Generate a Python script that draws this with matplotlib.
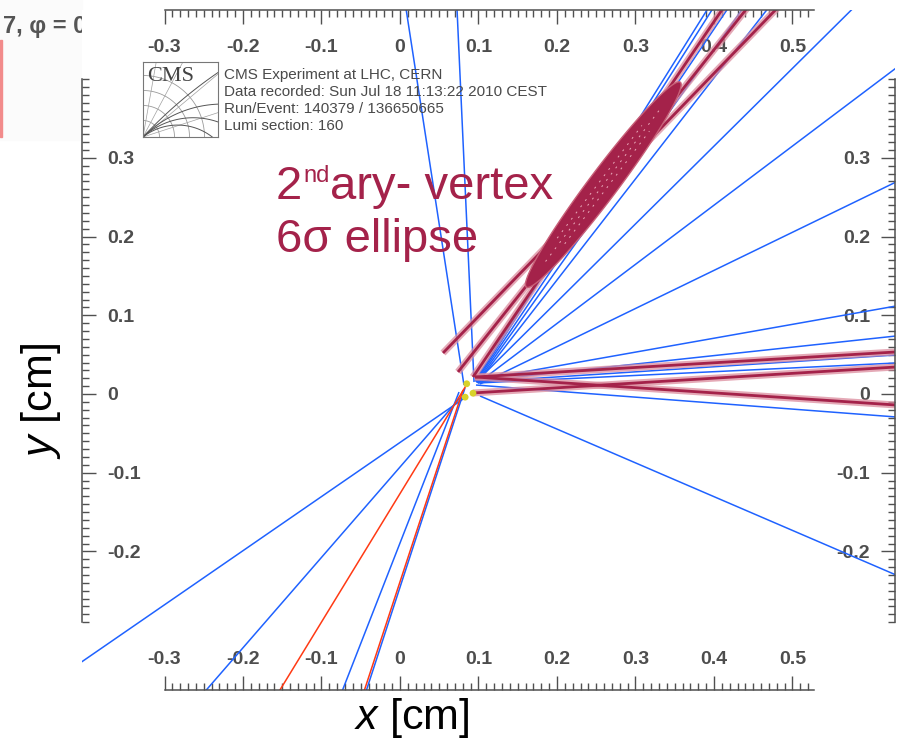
import numpy as np
import matplotlib
matplotlib.use("Agg")
import matplotlib.pyplot as plt
import matplotlib.transforms as mtrans
from matplotlib.patches import Rectangle
from matplotlib.ticker import FixedLocator

plt.rcParams['font.family'] = ['Liberation Sans', 'DejaVu Sans']
plt.rcParams['mathtext.fontset'] = 'custom'
plt.rcParams['mathtext.rm'] = 'Liberation Sans'
plt.rcParams['mathtext.it'] = 'Liberation Sans:italic'

W, H = 903, 744

# ---- reconstructed tracks in the transverse plane (cm): start -> end ----
blue_x0 = [0.0815, 0.0943, 0.0841, 0.0764, 0.0752, 0.0828,
           0.0994, 0.0994, 0.0994, 0.0994, 0.0968, 0.1019,
           0.0968, 0.0994, 0.1019,
           0.0955, 0.0968, 0.0968, 0.0981, 0.0981]
blue_y0 = [0.0114, 0.0152, -0.0038, -0.0051, 0.0025, 0.0076,
           0.0178, 0.0165, 0.0152, 0.0140, 0.0114, -0.0025,
           0.0152, 0.0140, 0.0127,
           0.0165, 0.0165, 0.0152, 0.0152, 0.0140]
blue_x1 = [0.0076, 0.0726, -0.4076, -0.2484, -0.0739, -0.0433,
           0.632, 0.632, 0.632, 0.632, 0.632, 0.632,
           0.5771, 0.632, 0.632,
           0.3924, 0.3987, 0.4178, 0.4369, 0.4688]
blue_y1 = [0.49, 0.49, -0.3418, -0.378, -0.378, -0.378,
           0.1118, 0.0737, 0.0496, 0.0394, -0.0292, -0.2300,
           0.49, 0.4142, 0.2694,
           0.49, 0.49, 0.49, 0.49, 0.49]

red_x0 = [0.0854, 0.0803]
red_y0 = [0.0127, 0.0051]
red_x1 = [-0.1541, -0.0459]
red_y1 = [-0.378, -0.378]

# tracks fitted to the secondary vertices
sv_x0 = [0.0548, 0.0739, 0.0930, 0.0955, 0.0955, 0.0930]
sv_y0 = [0.0521, 0.0280, 0.0216, 0.0216, 0.0216, 0.0013]
sv_x1 = [0.4803, 0.4420, 0.4115, 0.632, 0.632, 0.632]
sv_y1 = [0.49, 0.49, 0.49, -0.0140, 0.0534, 0.0343]

# vertex positions (cm)
vtx_x = [0.085, 0.083, 0.093]
vtx_y = [0.013, -0.004, 0.001]

# secondary-vertex 6 sigma ellipse: centre, full axes (cm), orientation (deg)
ell_cx, ell_cy = 0.259, 0.266
ell_major, ell_minor = 0.326, 0.037
ell_angle = 53.0

# axis scales
x_major = [-0.3, -0.2, -0.1, 0.0, 0.1, 0.2, 0.3, 0.4, 0.5]
x_labels = ['-0.3', '-0.2', '-0.1', '0', '0.1', '0.2', '0.3', '0.4', '0.5']
y_major = [-0.2, -0.1, 0.0, 0.1, 0.2, 0.3]
y_labels = ['-0.2', '-0.1', '0', '0.1', '0.2', '0.3']
x_minor = np.round(np.arange(-0.30, 0.5201, 0.01), 2)
y_minor = np.round(np.arange(-0.29, 0.4001, 0.01), 2)

BLUE = '#1f62ff'
RED = '#ff3a14'
MAROON = '#a4224a'
HALO = '#dc8c9e'
GREY = '#505050'

fig = plt.figure(figsize=(W / 100, H / 100), dpi=100)
fig.patch.set_facecolor('white')


def fpos(px, py):
    return px / W, 1 - py / H


# fragment of the neighbouring panel on the left
fig.patches.append(Rectangle((0, 1 - 140 / H), 82 / W, 140 / H,
                             transform=fig.transFigure, color='#fbfbfb',
                             zorder=-2))
fig.patches.append(Rectangle((0, 1 - 137 / H), 2 / W, 97 / H,
                             transform=fig.transFigure, color='#f28b8b',
                             zorder=-1))
fig.text(*fpos(3, 26), '7, φ = 0', fontsize=17, fontweight='bold',
         color='#555555', va='center', ha='left', zorder=-1)

ax = fig.add_axes([82 / W, 1 - 690 / H, (895 - 82) / W, (690 - 10) / H])
ax.set_xlim(-0.4051, 0.6306)
ax.set_ylim(-0.3761, 0.4879)
ax.set_facecolor('white')

for x0, y0, x1, y1 in zip(blue_x0, blue_y0, blue_x1, blue_y1):
    ax.plot([x0, x1], [y0, y1], color=BLUE, lw=1.1, zorder=2,
            solid_capstyle='butt')
for x0, y0, x1, y1 in zip(red_x0, red_y0, red_x1, red_y1):
    ax.plot([x0, x1], [y0, y1], color=RED, lw=1.1, zorder=2.1,
            solid_capstyle='butt')

for x0, y0, x1, y1 in zip(sv_x0, sv_y0, sv_x1, sv_y1):
    ax.plot([x0, x1], [y0, y1], color=HALO, lw=5.0, alpha=0.75, zorder=2.4,
            solid_capstyle='butt')
    ax.plot([x0, x1], [y0, y1], color=MAROON, lw=2.0, zorder=2.5,
            solid_capstyle='butt')

# error ellipse as a filled outline, drawn over the tracks it contains
a = np.radians(ell_angle)
ux, uy = np.cos(a), np.sin(a)
nx, ny = -uy, ux
tt = np.linspace(0, 2 * np.pi, 200)
ex = ell_cx + ell_major / 2 * np.cos(tt) * ux + ell_minor / 2 * np.sin(tt) * nx
ey = ell_cy + ell_major / 2 * np.cos(tt) * uy + ell_minor / 2 * np.sin(tt) * ny
ax.fill(ex, ey, facecolor=MAROON, edgecolor='#c86078', lw=1.0, zorder=2.7)
# faint inner structure of the error ellipse
for off, frac in [(-0.006, 0.55), (0.0, 0.75), (0.006, 0.55)]:
    half = ell_major / 2 * frac
    ax.plot([ell_cx - half * ux + off * nx, ell_cx + half * ux + off * nx],
            [ell_cy - half * uy + off * ny, ell_cy + half * uy + off * ny],
            color='#e9a9b9', lw=0.7, dashes=(2, 6), zorder=2.75)

ax.scatter(vtx_x, vtx_y, s=24, color='#d8d22a', edgecolors='none', zorder=3)

# frame: partial spines with inward ticks and inward labels
for side in ['top', 'bottom']:
    ax.spines[side].set_bounds(-0.3, 0.527)
for side in ['left', 'right']:
    ax.spines[side].set_bounds(-0.29, 0.40)
for sp in ax.spines.values():
    sp.set_color(GREY)
    sp.set_linewidth(1.1)

ax.xaxis.set_major_locator(FixedLocator(x_major))
ax.xaxis.set_minor_locator(FixedLocator(x_minor))
ax.yaxis.set_major_locator(FixedLocator(y_major))
ax.yaxis.set_minor_locator(FixedLocator(y_minor))
ax.set_xticklabels(x_labels)
ax.set_yticklabels(y_labels)

ax.tick_params(which='both', direction='in', top=True, right=True,
               color=GREY, width=1.0)
ax.tick_params(which='major', length=10)
ax.tick_params(which='minor', length=5)
ax.tick_params(axis='x', which='major', labeltop=True, labelsize=14,
               labelcolor='#4d4d4d')
ax.tick_params(axis='y', which='major', labelright=True, labelsize=14,
               labelcolor='#4d4d4d')
ax.xaxis.set_tick_params(which='major', pad=-28.4)
ax.yaxis.set_tick_params(which='major', pad=-18)
for t in ax.xaxis.get_major_ticks():
    t.label1.set_fontweight('bold')
    t.label2.set_fontweight('bold')
    # top labels sit inside the frame, below the top spine
    t.label2.set_transform(ax.get_xaxis_transform(which='tick2') +
                           mtrans.ScaledTranslation(0, -32.9 / 72,
                                                    fig.dpi_scale_trans))
for t in ax.yaxis.get_major_ticks():
    t.label1.set_fontweight('bold')
    t.label2.set_fontweight('bold')
    t.label1.set_ha('left')
    t.label2.set_ha('right')

# CMS logo
lax = fig.add_axes([143 / W, 1 - 137 / H, 75 / W, 75 / H])
lax.set_xlim(0, 1)
lax.set_ylim(0, 1)
lax.set_xticks([])
lax.set_yticks([])
for sp in lax.spines.values():
    sp.set_color('#777777')
    sp.set_linewidth(0.8)
th = np.linspace(0, np.pi / 2, 60)
for r in [0.22, 0.42, 0.62, 0.82]:
    lax.plot(r * np.cos(th), r * np.sin(th), color='#9a9a9a', lw=0.6)
for ang in np.radians([18, 40, 62, 80]):
    lax.plot([0, 1.5 * np.cos(ang)], [0, 1.5 * np.sin(ang)],
             color='#a0a0a0', lw=0.5)
s = np.linspace(0, 2.0, 120)
for th0, R in [(np.radians(47), 6.0), (np.radians(45), 1.5),
               (np.radians(42), 1.0), (np.radians(38), 0.75)]:
    lx = R * (np.sin(th0) - np.sin(th0 - s / R))
    ly = R * (np.cos(th0 - s / R) - np.cos(th0))
    keep = (s / R) < np.radians(100)
    lax.plot(lx[keep], ly[keep], color='#555555', lw=0.7)
lax.text(0.06, 0.93, 'CMS', family='Liberation Serif', fontsize=16,
         color='#444444', va='top', ha='left')

info = ['CMS Experiment at LHC, CERN',
        'Data recorded: Sun Jul 18 11:13:22 2010 CEST',
        'Run/Event: 140379 / 136650665',
        'Lumi section: 160']
for i, line in enumerate(info):
    fig.text(*fpos(224, 75 + 17 * i), line, fontsize=11, color='#4a4a4a',
             va='center', ha='left')

# secondary-vertex annotation
t2 = fig.text(*fpos(276, 199), '2', fontsize=34, color=MAROON,
              va='baseline', ha='left')
tnd = ax.annotate('nd', xy=(1, 1), xycoords=t2, xytext=(0.5, 0),
                  textcoords='offset points', fontsize=17, color=MAROON,
                  va='top', ha='left', annotation_clip=False)
ax.annotate('ary- vertex', xy=(1, 0), xycoords=(tnd, t2), xytext=(0.5, 0),
            textcoords='offset points', fontsize=34, color=MAROON,
            va='bottom', ha='left', annotation_clip=False)
fig.text(*fpos(276, 252), '6σ ellipse', fontsize=34, color=MAROON,
         va='baseline', ha='left')

# axis titles
fig.text(*fpos(412, 718), '$x$ [cm]', fontsize=31, color='black',
         ha='center', va='center')
fig.text(*fpos(41, 401), '$y$ [cm]', fontsize=31, color='black',
         ha='center', va='center', rotation=90)

fig.savefig('out.png', dpi=100)
